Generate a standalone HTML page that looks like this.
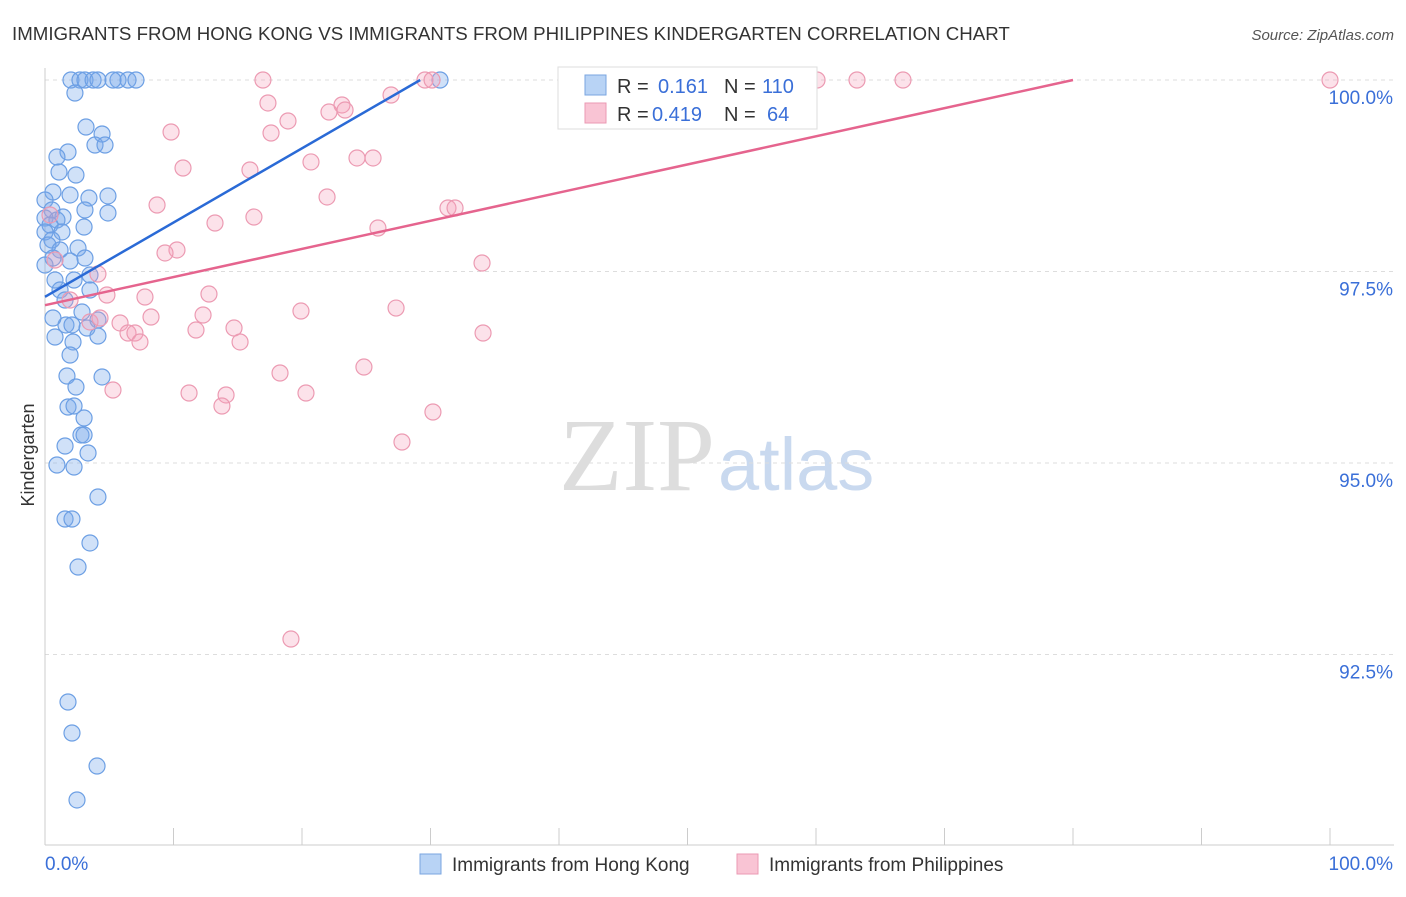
<!DOCTYPE html>
<html><head><meta charset="utf-8"><style>
body{margin:0;background:#fff;font-family:"Liberation Sans",sans-serif}
</style></head><body>
<svg id="c" width="1406" height="892" xmlns="http://www.w3.org/2000/svg">
<text x="12" y="40" font-size="18.7" fill="#333">IMMIGRANTS FROM HONG KONG VS IMMIGRANTS FROM PHILIPPINES KINDERGARTEN CORRELATION CHART</text>
<text x="1394" y="40" font-size="15" fill="#555" font-style="italic" text-anchor="end">Source: ZipAtlas.com</text>
<text x="715" y="490" font-size="104" fill="#ddd" font-family="Liberation Serif" text-anchor="end">ZIP</text>
<text x="718" y="490" font-size="74" fill="#c9d9ef">atlas</text>
<text x="34" y="455" font-size="18" fill="#333" transform="rotate(-90 34 455)" text-anchor="middle">Kindergarten</text>
<g id="grid"></g><g id="pts"></g><g id="lines"></g>
<g>
<rect x="558" y="67" width="259" height="62" fill="#fff" stroke="#ddd"/>
<rect x="585" y="75" width="21" height="20" fill="#b8d3f5" stroke="#7aa6e0"/>
<rect x="585" y="103" width="21" height="20" fill="#f9c4d4" stroke="#eb9ab3"/>
<text x="617" y="93" font-size="20" fill="#333">R =</text>
<text x="658" y="93" font-size="20" fill="#3a6fd8">0.161</text>
<text x="724" y="93" font-size="20" fill="#333">N =</text>
<text x="762" y="93" font-size="20" fill="#3a6fd8">110</text>
<text x="617" y="121" font-size="20" fill="#333">R =</text>
<text x="652" y="121" font-size="20" fill="#3a6fd8">0.419</text>
<text x="724" y="121" font-size="20" fill="#333">N =</text>
<text x="767" y="121" font-size="20" fill="#3a6fd8">64</text>
</g>
<g>
<rect x="420" y="854" width="21" height="20" fill="#b8d3f5" stroke="#7aa6e0"/>
<text x="452" y="871" font-size="19" fill="#333">Immigrants from Hong Kong</text>
<rect x="737" y="854" width="21" height="20" fill="#f9c4d4" stroke="#eb9ab3"/>
<text x="769" y="871" font-size="19" fill="#333">Immigrants from Philippines</text>
</g>
</svg>
<script>
const yTicks=[100,97.5,95,92.5];
const yTickLabels=["100.0%","97.5%","95.0%","92.5%"];
const blueX=[71,80,85,93,98,118,128,136,113,440,75,86,102,95,105,68,57,59,76,53,70,108,89,45,52,85,108,63,45,57,50,84,45,62,52,78,48,60,85,53,70,45,90,55,74,60,65,90,82,98,66,72,87,53,55,98,73,70,67,102,76,68,74,84,81,84,65,88,57,74,98,65,72,90,78,68,72,97,77].map(p=>+((p-45)/12.85).toFixed(2));
const blueY=[80,80,80,80,80,80,80,80,80,80,93,127,134,145,145,152,157,172,175,192,195,196,198,200,210,210,213,217,218,220,225,227,232,232,240,248,245,250,258,258,261,265,275,280,280,290,300,290,312,320,325,325,328,318,337,336,342,355,376,377,387,407,406,418,435,435,446,453,465,467,497,519,519,543,567,702,733,766,800].map(p=>+(100-(p-80)/76.6).toFixed(3));
const pinkX=[263,425,432,817,857,903,1330,391,268,342,329,345,288,171,271,357,373,183,250,311,327,157,254,215,448,455,378,177,165,482,98,107,145,209,396,301,151,203,90,120,128,135,196,234,240,140,100,483,364,280,113,189,226,222,306,433,402,291,50,55,70].map(p=>+((p-45)/12.85).toFixed(2));
const pinkY=[80,80,80,80,80,80,80,95,103,105,112,110,121,132,133,158,158,168,170,162,197,205,217,223,208,208,228,250,253,263,274,295,297,294,308,311,317,315,322,323,333,333,330,328,342,342,318,333,367,373,390,393,395,406,393,412,442,639,215,260,300].map(p=>+(100-(p-80)/76.6).toFixed(3));
const blueLine=[[0,97.17],[29.2,100]];
const pinkLine=[[0,97.06],[80,100]];
const X=v=>45+v*12.85, Y=v=>80+(100-v)*76.6;
const NS="http://www.w3.org/2000/svg";
function mk(t,a,p){const e=document.createElementNS(NS,t);for(const k in a)e.setAttribute(k,a[k]);p.appendChild(e);return e;}
const g=document.getElementById('grid'),svg=document.getElementById('c');
yTicks.forEach((t,i)=>{const l=mk('line',{x1:45,x2:1394,y1:Y(t),y2:Y(t),stroke:'#ddd','stroke-dasharray':'4 4'},g);


const tx=mk('text',{x:1393,y:Y(t)+24,'font-size':19,fill:'#3a6fd8','text-anchor':'end'},g);tx.textContent=yTickLabels[i];

});
const ax=mk('line',{x1:45,x2:1394,y1:845,y2:845,stroke:'#ccc'},g);


const ay=mk('line',{x1:45,x2:45,y1:68,y2:845,stroke:'#ccc'},g);


for(let i=0;i<=10;i++){const t=mk('line',{x1:X(i*10),x2:X(i*10),y1:828,y2:845,stroke:'#ccc'},g);

}
[["0.0%",45,'start'],["100.0%",1393,'end']].forEach(a=>{const t=mk('text',{x:a[1],y:870,'font-size':19,fill:'#3a6fd8','text-anchor':a[2]},g);t.textContent=a[0];

});
const pg=document.getElementById('pts');
blueX.forEach((v,i)=>{const c=mk('circle',{cx:X(v),cy:Y(blueY[i]),r:8,fill:'rgba(120,170,235,0.35)',stroke:'#6c9fe4','stroke-width':1.2},pg);

});
pinkX.forEach((v,i)=>{const c=mk('circle',{cx:X(v),cy:Y(pinkY[i]),r:8,fill:'rgba(245,160,185,0.3)',stroke:'#ec9ab2','stroke-width':1.2},pg);

});
const lg=document.getElementById('lines');
const b=mk('line',{x1:X(blueLine[0][0]),y1:Y(blueLine[0][1]),x2:X(blueLine[1][0]),y2:Y(blueLine[1][1]),stroke:'#2a6ad6','stroke-width':2.5},lg);


const p=mk('line',{x1:X(pinkLine[0][0]),y1:Y(pinkLine[0][1]),x2:X(pinkLine[1][0]),y2:Y(pinkLine[1][1]),stroke:'#e5648e','stroke-width':2.5},lg);


</script>
</body></html>
